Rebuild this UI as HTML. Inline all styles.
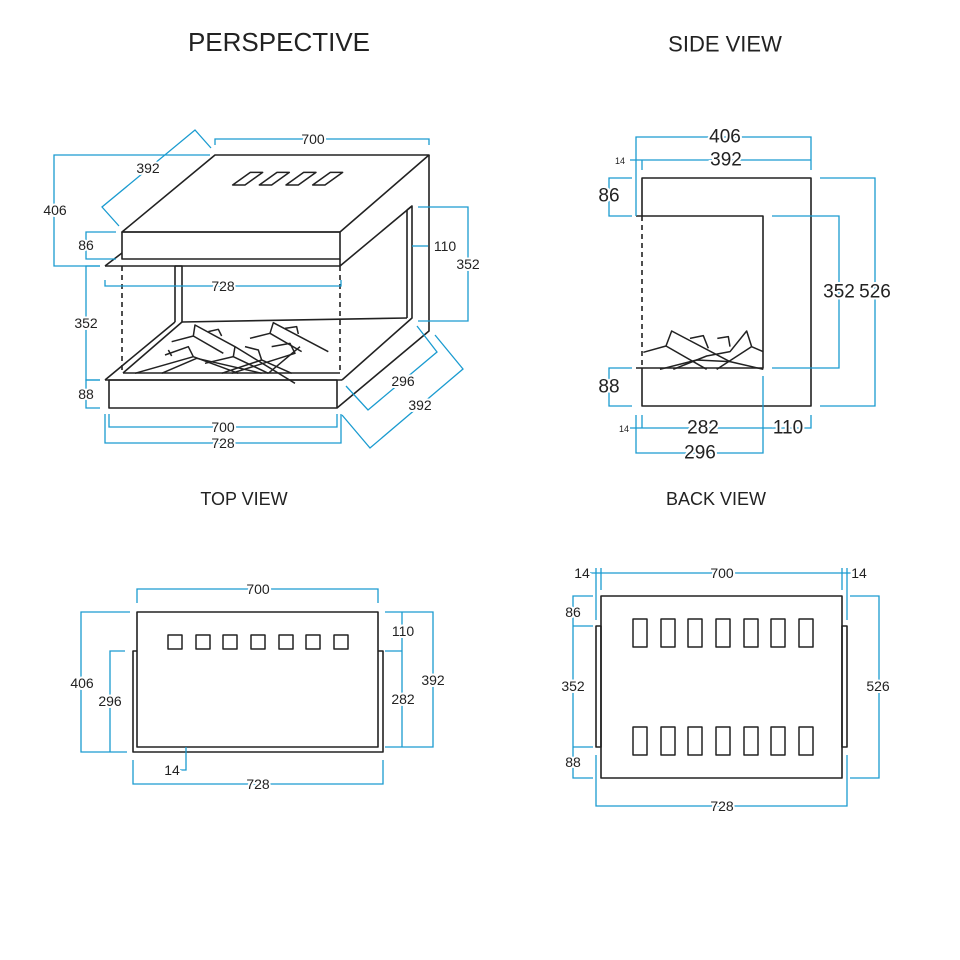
<!DOCTYPE html>
<html><head><meta charset="utf-8"><style>
html,body{margin:0;padding:0;background:#fff}
svg{display:block}
.o{stroke:#222;stroke-width:1.6;fill:none;stroke-linejoin:round}
.d{stroke:#1a9bd0;stroke-width:1.3;fill:none}
text{font-family:"Liberation Sans",sans-serif;fill:#222;text-anchor:middle;dominant-baseline:central}
.l{font-size:14px;paint-order:stroke;stroke:#fff;stroke-width:4px}
.L{font-size:19px;paint-order:stroke;stroke:#fff;stroke-width:4px}
</style></head><body>
<svg width="960" height="960" viewBox="0 0 960 960">
<text x="279" y="42" font-size="26">PERSPECTIVE</text>
<text x="725" y="44" font-size="22">SIDE VIEW</text>
<text x="244" y="499" font-size="18">TOP VIEW</text>
<text x="716" y="499" font-size="18">BACK VIEW</text>

<!-- PERSPECTIVE -->
<g class="o">
<polygon points="122,232 215,155 429,155 340,232"/>
<rect x="122" y="232" width="218" height="27"/>
<polyline points="429,155 429,331 337,408"/>
<polyline points="340,259 340,266 412,206 412,318 342,380"/>
<polyline points="407,210 407,318"/>
<line x1="407" y1="210" x2="412" y2="206"/>
<polyline points="105,266 340,266"/>
<line x1="105" y1="266" x2="122" y2="253"/>
<polyline points="175,322 175,266 182,266 182,322"/>
<line x1="182" y1="322" x2="407" y2="318"/>
<line x1="105" y1="380" x2="175" y2="322"/>
<line x1="123" y1="373" x2="182" y2="322"/>
<line x1="105" y1="380" x2="342" y2="380"/>
<line x1="123" y1="373" x2="340" y2="373"/>
<rect x="109" y="380" width="228" height="28"/>
<g transform="translate(40,120) scale(0.3333)" stroke-width="4.5">
<polygon points="578,195 615,195 668,157 631,157"/>
<polygon points="658,195 695,195 748,157 711,157"/>
<polygon points="738,195 775,195 828,157 791,157"/>
<polygon points="818,195 855,195 908,157 871,157"/>
</g>
<g transform="translate(105,310) scale(0.3333)" stroke-width="4.5">
<polyline points="200,95 265,78 270,45 390,110 570,220"/>
<polyline points="265,78 355,130"/>
<polyline points="310,65 340,58 350,78"/>
<polyline points="435,85 495,70 505,38 670,125"/>
<polyline points="495,70 590,125"/>
<polyline points="540,55 575,50 580,72"/>
<polyline points="180,135 250,110 265,140 90,190"/>
<polyline points="190,120 200,138"/>
<polyline points="265,140 400,190"/>
<polyline points="170,190 275,145 470,190"/>
<polyline points="390,110 385,140 490,190"/>
<polyline points="385,140 300,160"/>
<polyline points="420,110 460,120 470,150 560,190"/>
<polyline points="500,110 555,100 570,130 380,190"/>
<polyline points="490,190 585,110"/>
<polyline points="350,190 470,150"/>
</g>
</g>
<g class="o" stroke-dasharray="5,4"><line x1="122" y1="266" x2="122" y2="373"/><line x1="340" y1="266" x2="340" y2="373"/></g>
<g class="d">
<polyline points="215,145 215,139 429,139 429,145"/>
<polyline points="210,155 54,155 54,266 100,266"/>
<polyline points="119,226 102,207 195,130 211,148"/>
<polyline points="116,232 86,232 86,259 116,259"/>
<polyline points="105,280 105,286 341,286 341,280"/>
<polyline points="412,246 428,246"/>
<polyline points="418,207 468,207 468,321 418,321"/>
<polyline points="100,266 86,266 86,380 100,380"/>
<polyline points="100,380 86,380 86,408 100,408"/>
<polyline points="109,414 109,427 337,427 337,414"/>
<polyline points="105,414 105,443 341,443 341,414"/>
<polyline points="346,386 368,410 437,352 417,326"/>
<polyline points="342,415 370,448 463,369 435,335"/>
</g>
<text class="l" x="313" y="139">700</text>
<text class="l" x="148" y="168">392</text>
<text class="l" x="55" y="210">406</text>
<text class="l" x="86" y="245">86</text>
<text class="l" x="223" y="286">728</text>
<text class="l" x="445" y="246">110</text>
<text class="l" x="468" y="264">352</text>
<text class="l" x="86" y="323">352</text>
<text class="l" x="86" y="394">88</text>
<text class="l" x="223" y="427">700</text>
<text class="l" x="223" y="443">728</text>
<text class="l" x="403" y="381">296</text>
<text class="l" x="420" y="405">392</text>

<!-- SIDE VIEW -->
<g class="o">
<polyline points="642,216 642,178 811,178 811,406 642,406 642,368"/>
<polyline points="636,216 763,216 763,368 636,368"/>
<g transform="translate(630,320) scale(0.3333)" stroke-width="4.5">
<polyline points="40,97 108,78 125,33 300,125"/>
<polyline points="108,78 230,148"/>
<polyline points="180,55 220,47 235,85"/>
<polyline points="130,148 230,108 300,95 350,33 365,80 400,95"/>
<polyline points="365,80 260,148"/>
<polyline points="262,55 295,50 300,80"/>
<polyline points="90,148 200,120 300,125 400,148"/>
</g>
</g>
<line class="o" x1="642" y1="216" x2="642" y2="368" stroke-dasharray="5,4"/>
<g class="d">
<polyline points="636,216 636,137 811,137 811,170"/>
<polyline points="630,160 811,160"/>
<line x1="642" y1="160" x2="642" y2="170"/>
<polyline points="632,178 609,178 609,216 632,216"/>
<polyline points="632,368 609,368 609,406 632,406"/>
<polyline points="772,216 839,216 839,368 772,368"/>
<polyline points="820,178 875,178 875,406 820,406"/>
<polyline points="630,428 811,428 811,415"/>
<line x1="642" y1="415" x2="642" y2="428"/>
<polyline points="636,415 636,453 763,453 763,376"/>
</g>
<text class="L" x="725" y="137">406</text>
<text class="L" x="726" y="160">392</text>
<text x="620" y="161" font-size="9">14</text>
<text class="L" x="609" y="196">86</text>
<text class="L" x="609" y="387">88</text>
<text class="L" x="839" y="292">352</text>
<text class="L" x="875" y="292">526</text>
<text class="L" x="703" y="428">282</text>
<text class="L" x="788" y="428">110</text>
<text x="624" y="429" font-size="9">14</text>
<text class="L" x="700" y="453">296</text>

<!-- TOP VIEW -->
<g class="o">
<rect x="137" y="612" width="241" height="135"/>
<polyline points="137,651 133,651 133,752 383,752 383,651 378,651"/>
<g stroke-width="1.5">
<rect x="168" y="635" width="14" height="14"/><rect x="196" y="635" width="14" height="14"/>
<rect x="223" y="635" width="14" height="14"/><rect x="251" y="635" width="14" height="14"/>
<rect x="279" y="635" width="14" height="14"/><rect x="306" y="635" width="14" height="14"/>
<rect x="334" y="635" width="14" height="14"/>
</g>
</g>
<g class="d">
<polyline points="137,603 137,589 378,589 378,603"/>
<polyline points="130,612 81,612 81,752 127,752"/>
<polyline points="125,651 110,651 110,752"/>
<polyline points="385,612 433,612 433,747 385,747"/>
<polyline points="385,651 402,651"/>
<line x1="402" y1="612" x2="402" y2="747"/>
<polyline points="186,747 186,770 180,770"/>
<polyline points="133,760 133,784 383,784 383,760"/>
</g>
<text class="l" x="258" y="589">700</text>
<text class="l" x="82" y="683">406</text>
<text class="l" x="110" y="701">296</text>
<text class="l" x="403" y="631">110</text>
<text class="l" x="433" y="680">392</text>
<text class="l" x="403" y="699">282</text>
<text class="l" x="172" y="770">14</text>
<text class="l" x="258" y="784">728</text>

<!-- BACK VIEW -->
<g class="o">
<rect x="601" y="596" width="241" height="182"/>
<rect x="596" y="626" width="5" height="121"/>
<rect x="842" y="626" width="5" height="121"/>
<g stroke-width="1.5">
<rect x="633" y="619" width="14" height="28"/><rect x="661" y="619" width="14" height="28"/>
<rect x="688" y="619" width="14" height="28"/><rect x="716" y="619" width="14" height="28"/>
<rect x="744" y="619" width="14" height="28"/><rect x="771" y="619" width="14" height="28"/>
<rect x="799" y="619" width="14" height="28"/>
<rect x="633" y="727" width="14" height="28"/><rect x="661" y="727" width="14" height="28"/>
<rect x="688" y="727" width="14" height="28"/><rect x="716" y="727" width="14" height="28"/>
<rect x="744" y="727" width="14" height="28"/><rect x="771" y="727" width="14" height="28"/>
<rect x="799" y="727" width="14" height="28"/>
</g>
</g>
<g class="d">
<line x1="590" y1="573" x2="856" y2="573"/>
<line x1="596" y1="568" x2="596" y2="620"/><line x1="601" y1="568" x2="601" y2="590"/>
<line x1="842" y1="568" x2="842" y2="590"/><line x1="847" y1="568" x2="847" y2="620"/>
<polyline points="593,596 573,596 573,778 593,778"/>
<line x1="573" y1="626" x2="593" y2="626"/><line x1="573" y1="747" x2="593" y2="747"/>
<polyline points="850,596 879,596 879,778 850,778"/>
<polyline points="596,755 596,806 847,806 847,755"/>
</g>
<text class="l" x="722" y="573">700</text>
<text class="l" x="582" y="573">14</text>
<text class="l" x="859" y="573">14</text>
<text class="l" x="573" y="612">86</text>
<text class="l" x="573" y="686">352</text>
<text class="l" x="573" y="762">88</text>
<text class="l" x="878" y="686">526</text>
<text class="l" x="722" y="806">728</text>
</svg>
</body></html>
